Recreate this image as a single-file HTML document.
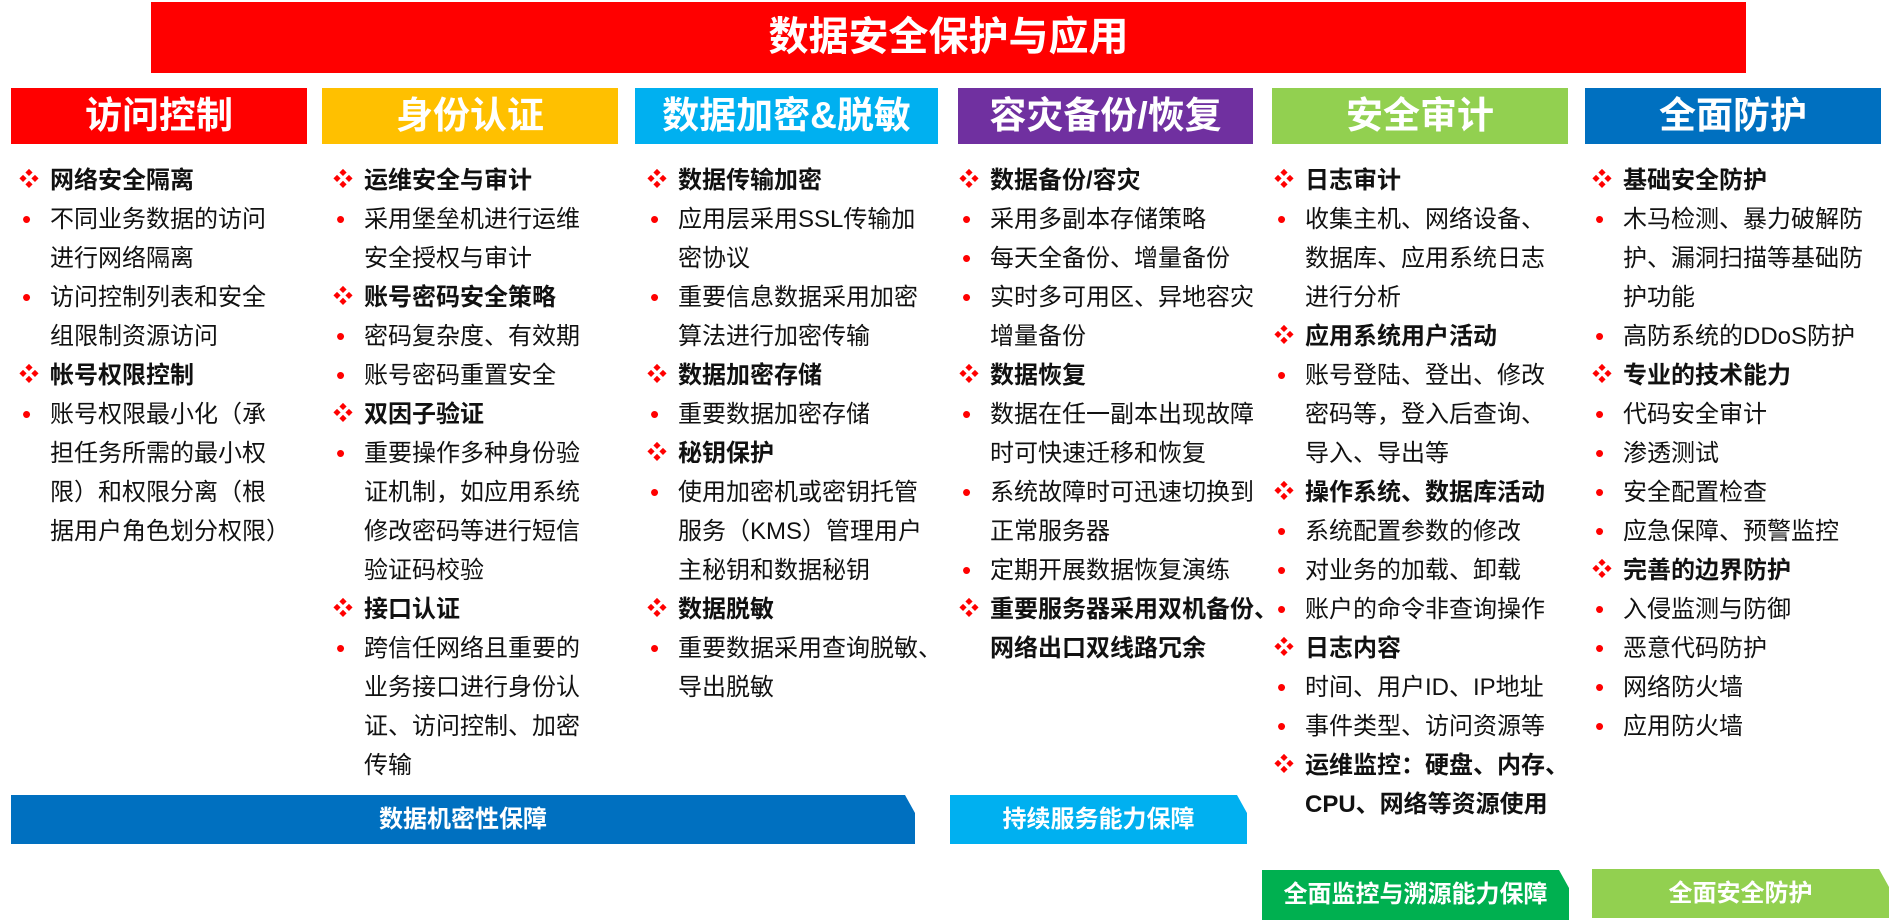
<!DOCTYPE html>
<html><head><meta charset="utf-8"><style>
body{margin:0;width:1903px;height:920px;background:#fff;position:relative;overflow:hidden;font-family:"Liberation Sans","Noto Sans CJK SC",sans-serif}
.t{position:absolute;left:151px;top:2px;width:1595px;height:71px;background:#ff0000;color:#fff;font-weight:bold;font-size:40px;text-align:center;line-height:71px}
.h{position:absolute;top:88px;height:56px;color:#fff;font-weight:bold;font-size:37px;text-align:center;line-height:56px}
.c{position:absolute;top:161px;font-size:24px;color:#111}
.c div{position:relative;height:39px;line-height:39px;padding-left:19px;white-space:nowrap}
.c .d{font-weight:bold}
.c .d:before{content:"❖";color:#f00;position:absolute;left:-12px;font-size:20px;font-weight:normal}
.c .b:before{content:"•";color:#f00;position:absolute;left:-9px;font-size:26px}
.c .k{font-weight:bold}
.f{position:absolute;color:#fff;font-weight:bold;font-size:24px;text-align:center;clip-path:polygon(0 0,calc(100% - 10px) 0,100% 18px,100% 100%,0 100%)}
</style></head><body>
<div class="t">数据安全保护与应用</div>
<div class="h" style="left:11px;width:296px;background:#ff0000">访问控制</div>
<div class="h" style="left:322px;width:296px;background:#ffc000">身份认证</div>
<div class="h" style="left:635px;width:303px;background:#00b0f0">数据加密&amp;脱敏</div>
<div class="h" style="left:958px;width:295px;background:#7030a0">容灾备份/恢复</div>
<div class="h" style="left:1272px;width:296px;background:#92d050">安全审计</div>
<div class="h" style="left:1585px;width:296px;background:#0070c0">全面防护</div>

<div class="c" style="left:31px">
<div class="d">网络安全隔离</div><div class="b">不同业务数据的访问</div><div>进行网络隔离</div><div class="b">访问控制列表和安全</div><div>组限制资源访问</div><div class="d">帐号权限控制</div><div class="b">账号权限最小化（承</div><div>担任务所需的最小权</div><div>限）和权限分离（根</div><div>据用户角色划分权限）</div>
</div>
<div class="c" style="left:345px">
<div class="d">运维安全与审计</div><div class="b">采用堡垒机进行运维</div><div>安全授权与审计</div><div class="d">账号密码安全策略</div><div class="b">密码复杂度、有效期</div><div class="b">账号密码重置安全</div><div class="d">双因子验证</div><div class="b">重要操作多种身份验</div><div>证机制，如应用系统</div><div>修改密码等进行短信</div><div>验证码校验</div><div class="d">接口认证</div><div class="b">跨信任网络且重要的</div><div>业务接口进行身份认</div><div>证、访问控制、加密</div><div>传输</div>
</div>
<div class="c" style="left:659px">
<div class="d">数据传输加密</div><div class="b">应用层采用SSL传输加</div><div>密协议</div><div class="b">重要信息数据采用加密</div><div>算法进行加密传输</div><div class="d">数据加密存储</div><div class="b">重要数据加密存储</div><div class="d">秘钥保护</div><div class="b">使用加密机或密钥托管</div><div>服务（KMS）管理用户</div><div>主秘钥和数据秘钥</div><div class="d">数据脱敏</div><div class="b">重要数据采用查询脱敏、</div><div>导出脱敏</div>
</div>
<div class="c" style="left:971px">
<div class="d">数据备份/容灾</div><div class="b">采用多副本存储策略</div><div class="b">每天全备份、增量备份</div><div class="b">实时多可用区、异地容灾</div><div>增量备份</div><div class="d">数据恢复</div><div class="b">数据在任一副本出现故障</div><div>时可快速迁移和恢复</div><div class="b">系统故障时可迅速切换到</div><div>正常服务器</div><div class="b">定期开展数据恢复演练</div><div class="d">重要服务器采用双机备份、</div><div class="k">网络出口双线路冗余</div>
</div>
<div class="c" style="left:1286px">
<div class="d">日志审计</div><div class="b">收集主机、网络设备、</div><div>数据库、应用系统日志</div><div>进行分析</div><div class="d">应用系统用户活动</div><div class="b">账号登陆、登出、修改</div><div>密码等，登入后查询、</div><div>导入、导出等</div><div class="d">操作系统、数据库活动</div><div class="b">系统配置参数的修改</div><div class="b">对业务的加载、卸载</div><div class="b">账户的命令非查询操作</div><div class="d">日志内容</div><div class="b">时间、用户ID、IP地址</div><div class="b">事件类型、访问资源等</div><div class="d">运维监控：硬盘、内存、</div><div class="k">CPU、网络等资源使用</div>
</div>
<div class="c" style="left:1604px">
<div class="d">基础安全防护</div><div class="b">木马检测、暴力破解防</div><div>护、漏洞扫描等基础防</div><div>护功能</div><div class="b">高防系统的DDoS防护</div><div class="d">专业的技术能力</div><div class="b">代码安全审计</div><div class="b">渗透测试</div><div class="b">安全配置检查</div><div class="b">应急保障、预警监控</div><div class="d">完善的边界防护</div><div class="b">入侵监测与防御</div><div class="b">恶意代码防护</div><div class="b">网络防火墙</div><div class="b">应用防火墙</div>
</div>

<div class="f" style="left:11px;top:795px;width:904px;height:49px;line-height:49px;background:#0070c0">数据机密性保障</div>
<div class="f" style="left:950px;top:795px;width:297px;height:49px;line-height:49px;background:#00b0f0">持续服务能力保障</div>
<div class="f" style="left:1262px;top:870px;width:307px;height:50px;line-height:50px;background:#00b050">全面监控与溯源能力保障</div>
<div class="f" style="left:1592px;top:869px;width:297px;height:49px;line-height:49px;background:#92d050">全面安全防护</div>
</body></html>
